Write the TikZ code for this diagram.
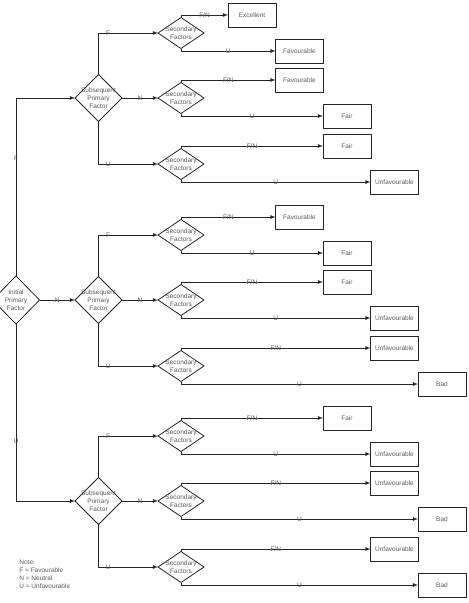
\documentclass[tikz,border=0pt]{standalone}
\usepackage{fontspec}
\setmainfont{Liberation Sans}
\usepackage{tikz}
\usetikzlibrary{shapes.geometric}

\definecolor{linegray}{HTML}{262626}
\definecolor{textgray}{HTML}{5A5A5A}

\newcommand{\rating}[1]{\ifcase#1\or Excellent\or Favourable\or Fair\or Unfavourable\or Bad\fi}

\tikzset{
  decision/.style={diamond, draw=linegray, inner sep=0pt, outer sep=0pt,
    minimum width=47pt, minimum height=47pt},
  secondary/.style={decision, minimum width=46pt, minimum height=31pt},
  outcome/.style={draw=linegray, inner sep=0pt, outer sep=0pt, text=textgray,
    minimum width=48pt, minimum height=24pt},
  lbl/.style={text=textgray, inner sep=0pt, align=center},
}

\begin{document}
\begin{tikzpicture}[x=1pt, y=-1pt, >=latex, line width=0.8pt,
    font=\fontsize{6.5}{8}\selectfont]
  \useasboundingbox (0,0) rectangle (469,603);

  \node[decision, minimum height=48pt,
    label={[lbl,name=inittxt]center:{Initial\\Primary\\Factor}}] (init) at (16,300) {};

  \foreach \g/\y in {1/98, 2/300, 3/501} {
    \node[decision, label={[lbl,name=subtxt\g]center:{Subsequent\\Primary\\Factor}}] (sub\g) at (98.5,\y) {};
    \foreach \b/\dy in {1/-65, 2/0, 3/66} {
      \pgfmathtruncatemacro\cf{min(\g+\b-1,4)}
      \pgfmathtruncatemacro\cu{min(\g+\b,5)}
      \node[secondary, label={[lbl,name=sectxt\g\b]center:{Secondary\\Factors}}] (sec\g\b) at (181,\y+\dy) {};
      \node[outcome] (fn\g\b) at (204.5+47.5*\cf,\y+\dy-18) {\rating{\cf}};
      \node[outcome] (u\g\b) at (204.5+47.5*\cu,\y+\dy+18) {\rating{\cu}};
      \draw[->, linegray] (sec\g\b.north) |- node[lbl,pos=0.75] (fnl\g\b) {F/N} (fn\g\b.west);
      \draw[->, linegray] (sec\g\b.south) |- node[lbl,pos=0.75] (ul\g\b) {U} (u\g\b.west);
    }
    \draw[->, linegray] (sub\g.north) |- node[lbl,pos=0.58] (fl\g) {F} (sec\g1.west);
    \draw[->, linegray] (sub\g.east) -- node[lbl] (nl\g) {N} (sec\g2.west);
    \draw[->, linegray] (sub\g.south) |- node[lbl,pos=0.58] (ul\g) {U} (sec\g3.west);
  }

  \draw[->, linegray] (init.north) |- node[lbl,pos=0.33] (fl) {F} (sub1.west);
  \draw[->, linegray] (init.east) -- node[lbl] (nl) {N} (sub2.west);
  \draw[->, linegray] (init.south) |- node[lbl,pos=0.33] (ul) {U} (sub3.west);

  \node[lbl, anchor=north west, align=left] (note) at (19,560)
    {Note:\\F = Favourable\\N = Neutral\\U = Unfavourable};
\end{tikzpicture}
\end{document}
